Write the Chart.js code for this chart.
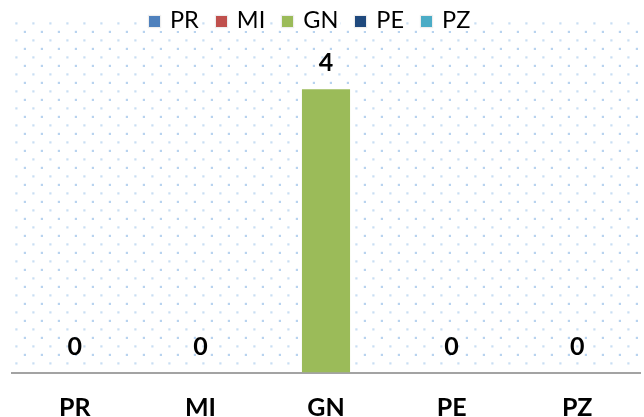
<!DOCTYPE html>
<html>
<head>
<meta charset="utf-8">
<script src="https://cdn.jsdelivr.net/npm/chart.js@4/dist/chart.umd.min.js"></script>
<style>
    body { margin: 0; background: #fff; }
    #wrap { position: relative; width: 644px; height: 417px; }
    #legend {
        position: absolute; top: 8px; left: 147px;
        display: flex; gap: 13px;
        font-family: Lato, sans-serif; font-size: 23.5px; line-height: 23px; color: #000;
    }
    .legend-item { display: flex; align-items: center; background: #fff; padding: 0 2px; }
    .legend-box { width: 11px; height: 11px; margin-right: 10px; margin-top: 3px; box-shadow: 0 0 1px 1px #eeeeee; }
</style>
</head>
<body>
<div id="wrap">
    <canvas id="chart" width="644" height="417"></canvas>
    <div id="legend"></div>
</div>
<script>
const categories = ['PR', 'MI', 'GN', 'PE', 'PZ'];
const values = [0, 0, 4, 0, 0];
const colors = ['#4f81bd', '#c0504d', '#9bbb59', '#1f497d', '#4bacc6'];

// legend built from the categories
const legend = document.getElementById('legend');
categories.forEach((name, i) => {
    const item = document.createElement('div');
    item.classList.add('legend-item');
    item.innerHTML = `<span class="legend-box" style="background:${colors[i]}"></span><span>${name}</span>`;
    legend.appendChild(item);
});

// dotted background of the plot area
const dotsPlugin = {
    id: 'dots',
    beforeDatasetsDraw(chart) {
        const { ctx, chartArea } = chart;
        ctx.save();
        let row = 0;
        for (let y = chartArea.top + 4.8; y < chartArea.bottom - 1; y += 8.5, row++) {
            const odd = row % 2 === 1;
            ctx.fillStyle = odd ? '#b8d3ef' : '#c9def3';
            for (let x = chartArea.left + 4.3 + (odd ? 8.5 : 0); x < chartArea.right; x += 17) {
                ctx.fillRect(x - 1, y - 1, 2.2, 2.2);
            }
        }
        ctx.restore();
    }
};

// value labels above the bars
const valueLabels = {
    id: 'valueLabels',
    afterDatasetsDraw(chart) {
        const { ctx } = chart;
        const meta = chart.getDatasetMeta(0);
        ctx.save();
        ctx.font = 'bold 25px Lato';
        ctx.fillStyle = '#000';
        ctx.textAlign = 'center';
        ctx.textBaseline = 'alphabetic';
        meta.data.forEach((bar, i) => {
            ctx.fillText(String(values[i]), bar.x, bar.y - 18);
        });
        ctx.restore();
    }
};

const ctx = document.getElementById('chart').getContext('2d');
const chart = new Chart(ctx, {
    type: 'bar',
    data: {
        labels: categories,
        datasets: [
            {
                label: 'Series',
                data: values,
                backgroundColor: colors,
                borderWidth: 0,
                categoryPercentage: 1,
                barPercentage: 0.383
            }
        ]
    },
    options: {
        responsive: false,
        animation: false,
        layout: {
            padding: { top: 18.5, left: 12, right: 4, bottom: 0 }
        },
        plugins: {
            legend: { display: false },
            tooltip: { enabled: false }
        },
        scales: {
            x: {
                grid: { display: false, drawTicks: false },
                border: { display: true, color: '#a3a3a3', width: 2 },
                ticks: {
                    color: '#000',
                    padding: 20,
                    font: { family: 'Lato', size: 25, weight: 'bold' }
                },
                afterFit(scale) {
                    scale.height = 44.5;
                }
            },
            y: {
                display: false,
                min: 0,
                max: 5
            }
        }
    },
    plugins: [dotsPlugin, valueLabels]
});
</script>
</body>
</html>
